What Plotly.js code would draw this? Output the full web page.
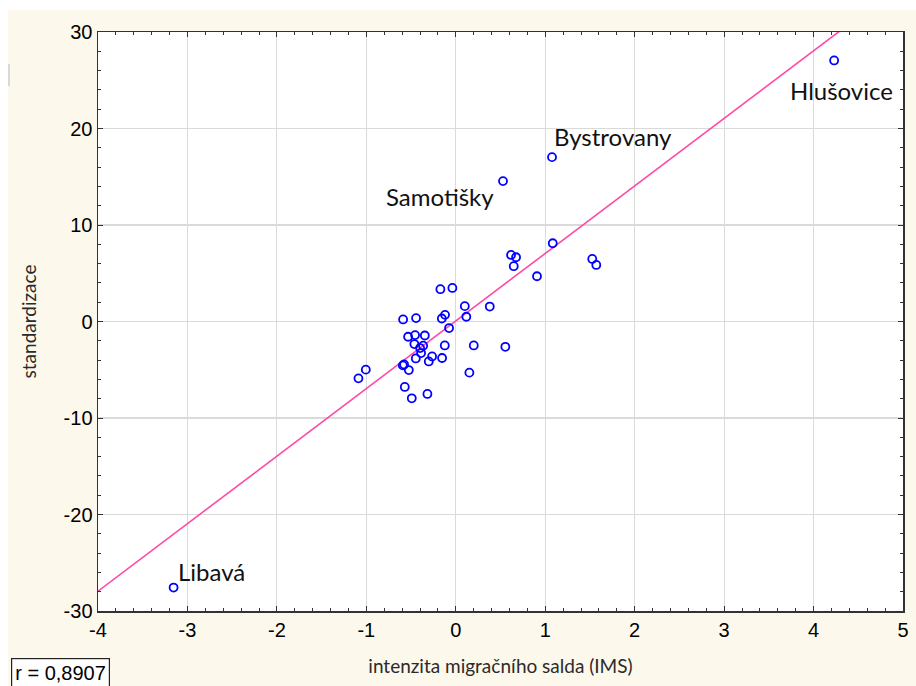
<!DOCTYPE html>
<html>
<head>
<meta charset="utf-8">
<script src="https://cdn.plot.ly/plotly-3.0.1.min.js"></script>
<style>html,body{margin:0;padding:0;background:#fff;}#chart{width:916px;height:686px;}</style>
</head>
<body>
<div id="chart"></div>
<script>
// Data
const imsX = [4.23, 1.076, 0.528, -3.155,
  0.618, 0.674, 0.648, 1.084, 0.908, 1.526, 1.571,
  -0.172, -0.038, 0.101, 0.380, 0.118, -0.589, -0.444, -0.156, -0.120,
  -0.075, -0.533, -0.455, -0.346, -0.463, -0.365, -0.399, -0.123, 0.201, 0.554,
  -0.388, -0.447, -0.265, -0.302, -0.153, -0.592, -0.578, -0.525, -1.006, -1.088,
  0.152, -0.570, -0.317, -0.492];
const standY = [27.05, 17.03, 14.55, -27.57,
  6.90, 6.66, 5.73, 8.11, 4.69, 6.48, 5.86,
  3.35, 3.48, 1.59, 1.55, 0.49, 0.21, 0.35, 0.31, 0.69,
  -0.68, -1.58, -1.41, -1.45, -2.34, -2.51, -2.75, -2.48, -2.48, -2.62,
  -3.27, -3.83, -3.62, -4.14, -3.78, -4.55, -4.45, -5.03, -4.99, -5.89,
  -5.30, -6.78, -7.51, -7.96];

// Regression line
const fitIntercept = 0.05;
const fitSlope = 7.0;
const fitX = [-4, 5];

// Labelled municipalities
const labelNames = ["Hlušovice", "Bystrovany", "Samotišky", "Libavá"];
const labelX = [4.316, 1.757, -0.175, -2.734];
const labelY = [23.96, 19.2, 13.0, -25.9];

const xTicks = [-4, -3, -2, -1, 0, 1, 2, 3, 4, 5];
const yTicks = [-30, -20, -10, 0, 10, 20, 30];
const rText = "r = 0,8907";
const xTitle = "intenzita migračního salda (IMS)";
const yTitle = "standardizace";

const fitY = fitX.map(x => fitIntercept + fitSlope * x);

const traces = [
  {
    x: fitX, y: fitY, type: 'scatter', mode: 'lines',
    line: {color: '#FF4AA5', width: 1.6}, hoverinfo: 'skip'
  },
  {
    x: imsX, y: standY, type: 'scatter', mode: 'markers',
    marker: {symbol: 'circle-open', size: 8, color: '#0000FF', line: {width: 1.8, color: '#0000FF'}}
  }
];

const annotations = labelNames.map((t, i) => ({
  x: labelX[i], y: labelY[i], xref: 'x', yref: 'y', text: t, showarrow: false,
  xanchor: 'center', yanchor: 'middle',
  font: {family: 'Lato, "Open Sans", sans-serif', size: 24, color: '#111'}
}));

const plotH = 686 - 32 - 75;
const plotW = 916 - 98 - 13;
annotations.push({
  xref: 'paper', yref: 'paper', x: (11 - 98) / plotW, y: -(658 - 611) / plotH,
  xanchor: 'left', yanchor: 'top', text: rText, showarrow: false,
  font: {family: '"Liberation Sans", Arial, sans-serif', size: 20, color: '#000'},
  bordercolor: '#222', borderwidth: 1.2, borderpad: 3, bgcolor: '#FFFFFF'
});

const axisCommon = {
  showline: true, linecolor: '#333', linewidth: 1.5, mirror: 'allticks',
  ticks: 'inside', ticklen: 5, tickcolor: '#333', tickwidth: 1,
  showgrid: true, gridcolor: '#DADADA', gridwidth: 1.2, zeroline: false,
  tickfont: {family: '"Liberation Sans", Arial, sans-serif', size: 20, color: '#000'}
};

const layout = {
  width: 916, height: 686,
  margin: {l: 98, r: 13, t: 32, b: 75},
  paper_bgcolor: '#FDF8EC', plot_bgcolor: '#FFFFFF',
  showlegend: false,
  xaxis: Object.assign({}, axisCommon, {
    range: [-4, 5], tickvals: xTicks, ticktext: xTicks.map(String),
    minor: {dtick: 0.2, ticks: 'inside', ticklen: 3, tickcolor: '#333', showgrid: false},
    title: {text: xTitle, standoff: 20, font: {family: 'Lato, "Open Sans", sans-serif', size: 19, color: '#2a2a2a'}}
  }),
  yaxis: Object.assign({}, axisCommon, {
    range: [-30, 30], tickvals: yTicks, ticktext: yTicks.map(String),
    minor: {dtick: 2, ticks: 'inside', ticklen: 3, tickcolor: '#333', showgrid: false},
    title: {text: yTitle, standoff: 22, font: {family: 'Lato, "Open Sans", sans-serif', size: 19, color: '#2a2a2a'}}
  }),
  annotations: annotations,
  shapes: [
    {type: 'rect', xref: 'paper', yref: 'paper', x0: -98 / plotW, x1: 1 + 13 / plotW,
     y0: 1 + 22 / plotH, y1: 1 + 32 / plotH, fillcolor: '#FFFFFF', line: {width: 0}, layer: 'below'},
    {type: 'rect', xref: 'paper', yref: 'paper', x0: -98 / plotW, x1: -90 / plotW,
     y0: -75 / plotH, y1: 1 + 32 / plotH, fillcolor: '#FFFFFF', line: {width: 0}, layer: 'below'},
    {type: 'rect', xref: 'paper', yref: 'paper', x0: -90 / plotW, x1: -88 / plotW,
     y0: 1 - (86 - 32) / plotH, y1: 1 - (64 - 32) / plotH, fillcolor: '#D8D8D8', line: {width: 0}, layer: 'below'}
  ]
};

Plotly.newPlot('chart', traces, layout, {displayModeBar: false, staticPlot: true});
</script>
</body>
</html>
